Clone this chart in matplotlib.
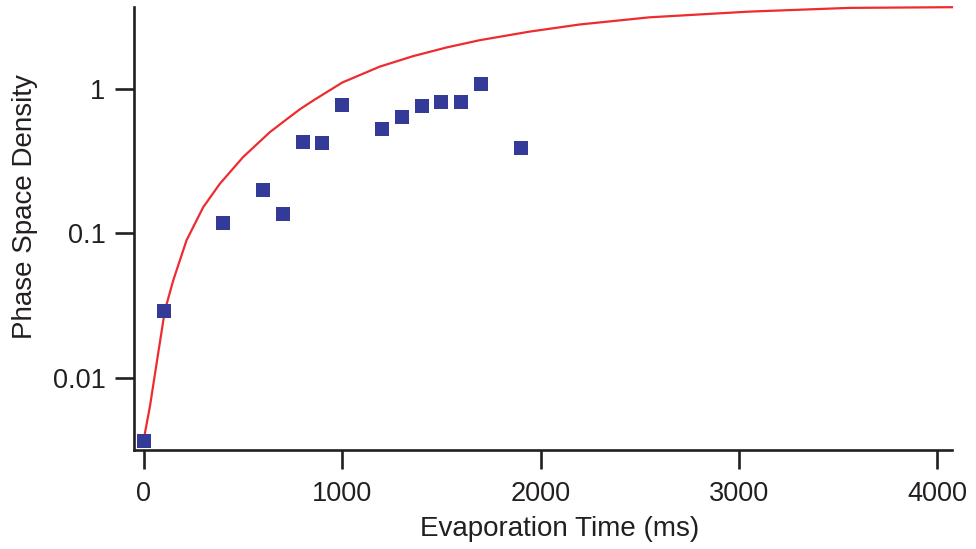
import numpy as np
import matplotlib
matplotlib.use("Agg")
import matplotlib.pyplot as plt

plt.rcParams['font.family'] = ['Liberation Sans', 'DejaVu Sans']

# measured points (blue squares)
t_data = [0, 100, 400, 600, 700, 800, 900, 1000, 1200, 1300, 1400, 1500, 1600, 1700, 1900]
psd_data = [0.00365, 0.0289, 0.118, 0.199, 0.136, 0.432, 0.422, 0.778,
            0.526, 0.637, 0.758, 0.817, 0.817, 1.081, 0.390]

# model curve (red)
t_fit = [0, 30, 64, 106, 148, 215, 299, 383, 500, 635, 700, 786, 853, 1000,
         1189, 1357, 1525, 1693, 1945, 2196, 2549, 3053, 3557, 4074]
psd_fit = [0.0038, 0.0063, 0.0126, 0.0294, 0.0474, 0.0897, 0.152, 0.221,
           0.338, 0.503, 0.589, 0.724, 0.832, 1.11, 1.43, 1.69, 1.94, 2.18,
           2.50, 2.80, 3.14, 3.44, 3.65, 3.69]

x_ticks = [0, 1000, 2000, 3000, 4000]
y_ticks = [0.01, 0.1, 1]
y_ticklabels = ['0.01', '0.1', '1']

fig = plt.figure(figsize=(9.76, 5.49), dpi=100)
ax = fig.add_axes([0.1373, 0.1803, 0.9754 - 0.1373, 0.9872 - 0.1803])

ax.plot(t_fit, psd_fit, color='#EE2B2E', lw=1.6, zorder=2, clip_on=False)
ax.plot(t_data, psd_data, 's', color='#333A98', markersize=9.4,
        markeredgewidth=0, zorder=3, clip_on=False)

ax.set_yscale('log')
ax.set_xlim(-50, 4074)
ax.set_ylim(0.00316, 3.7)

ax.set_xticks(x_ticks)
ax.set_xticklabels([str(v) for v in x_ticks])
ax.set_yticks(y_ticks)
ax.set_yticklabels(y_ticklabels)
ax.yaxis.set_minor_locator(matplotlib.ticker.NullLocator())

for s in ['top', 'right']:
    ax.spines[s].set_visible(False)
for s in ['left', 'bottom']:
    ax.spines[s].set_linewidth(1.9)
    ax.spines[s].set_color('#231F20')

ax.tick_params(axis='both', which='major', direction='out', length=13.5,
               width=1.9, color='#231F20', labelsize=19.5, labelcolor='#231F20')
ax.tick_params(axis='x', pad=9)
ax.tick_params(axis='y', pad=7)

ax.set_xlabel('Evaporation Time (ms)', fontsize=20, color='#231F20')
ax.set_ylabel('Phase Space Density', fontsize=20, color='#231F20')
ax.xaxis.set_label_coords(0.52, -0.148)
ax.yaxis.set_label_coords(-0.117, 0.549)

fig.savefig('out.png', dpi=100)
